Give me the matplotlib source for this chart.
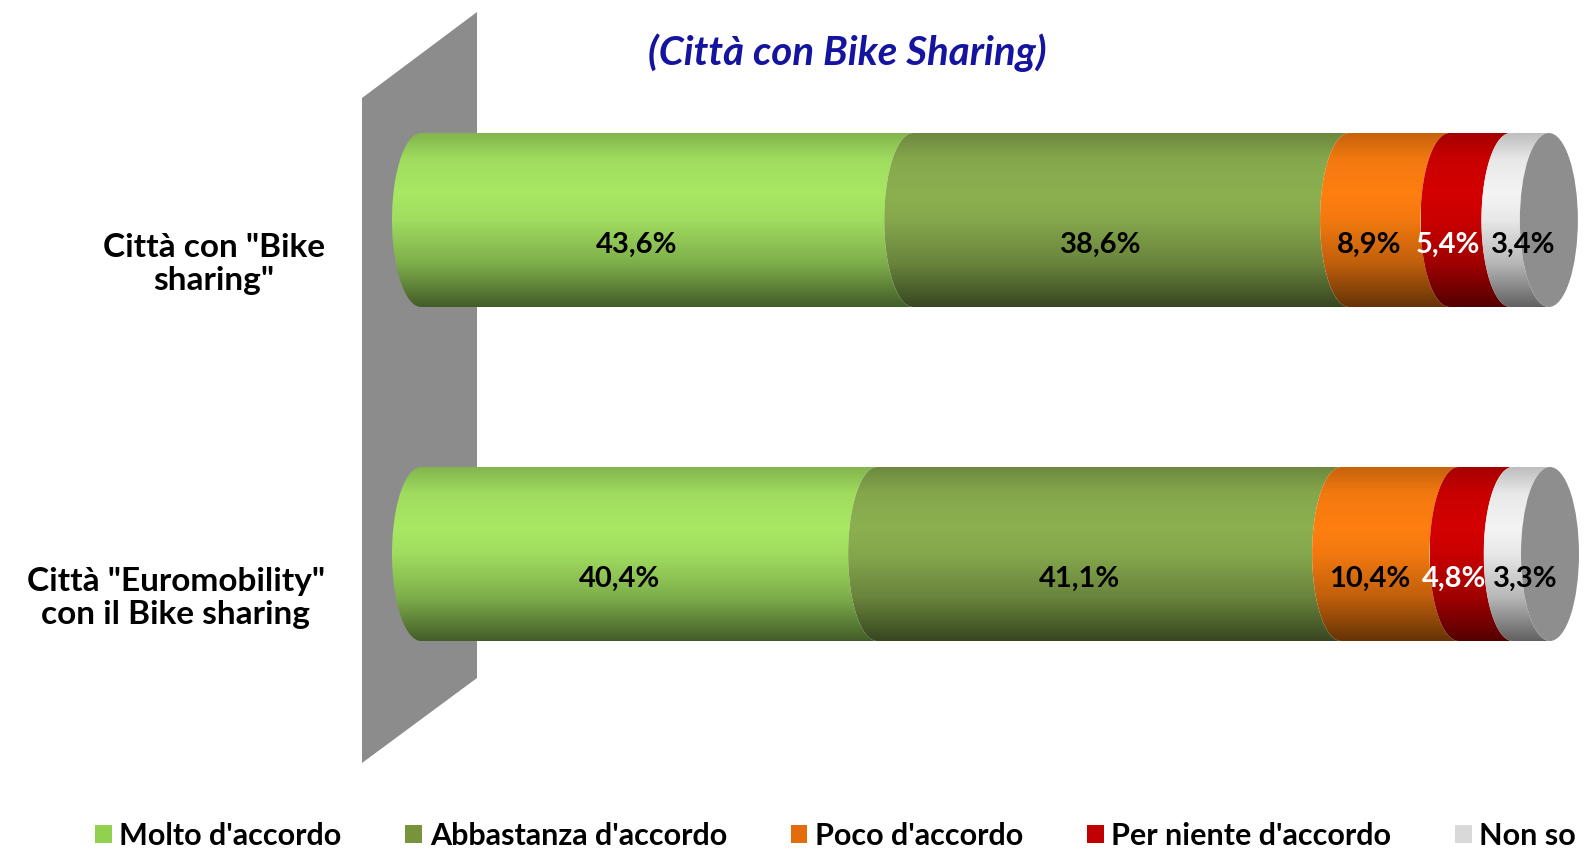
import numpy as np
import matplotlib
matplotlib.use('Agg')
import matplotlib.pyplot as plt
from matplotlib.patches import PathPatch, Ellipse, Polygon, Patch
from matplotlib.path import Path
from matplotlib.colors import to_rgb

plt.rcParams['font.family'] = ['Lato', 'DejaVu Sans']

categories = ['Città con "Bike\nsharing"', 'Città "Euromobility"\ncon il Bike sharing']
series = ["Molto d'accordo", "Abbastanza d'accordo", "Poco d'accordo", "Per niente d'accordo", "Non so"]
molto = [43.6, 40.4]
abbastanza = [38.6, 41.1]
poco = [8.9, 10.4]
per_niente = [5.4, 4.8]
non_so = [3.4, 3.3]
values = [molto, abbastanza, poco, per_niente, non_so]

bar_colors = ['#A8E864', '#8CB050', '#FF7F10', '#D40000', '#F4F4F4']
legend_colors = ['#92D050', '#77933C', '#E46C0A', '#C00000', '#D9D9D9']
label_colors = ['black', 'black', 'black', 'white', 'black']
label_dx = [-30, -30, -30, -32, -6]

W, H = 1590, 852
fig = plt.figure(figsize=(W / 100, H / 100), dpi=100)
ax = fig.add_axes([0, 0, 1, 1])
ax.axis('off')

# pixel mapping: 0% -> x=421, 100% -> x=1550 ; bar centres at y=220 and y=554
ppx = (1550 - 421) / 100
ax.set_xlim(-421 / ppx, (W - 421) / ppx)
ppy = 554 - 220
ax.set_ylim(-(H - 554) / ppy, 1 + 220 / ppy)

# back wall
wall = [(362, 98), (477, 12), (477, 678), (362, 763)]
ax.add_patch(Polygon([(x / W, 1 - y / H) for x, y in wall], closed=True,
                     transform=fig.transFigure, facecolor='#8C8C8C', edgecolor='none', zorder=1))

rx = 29 / ppx
ry = 87 / ppy
theta_l = np.linspace(np.pi / 2, 3 * np.pi / 2, 60)

# vertical shading profile (bottom -> top)
t = np.linspace(0, 1, 200)
shade = np.interp(t, [0, 0.25, 0.5, 0.65, 0.85, 1.0], [0.4, 0.75, 0.95, 1.0, 0.95, 0.78])

ypos = [1, 0]
for i, yc in enumerate(ypos):
    left = 0
    for s in range(len(series)):
        v = values[s][i]
        a, b = left, left + v
        xs = np.concatenate([a + rx * np.cos(theta_l), b + rx * np.cos(theta_l[::-1])])
        ys = np.concatenate([yc + ry * np.sin(theta_l), yc + ry * np.sin(theta_l[::-1])])
        patch = PathPatch(Path(np.column_stack([xs, ys])), facecolor='none', edgecolor='none', zorder=2)
        ax.add_patch(patch)
        rgb = np.array(to_rgb(bar_colors[s]))
        img = np.clip(shade[:, None, None] * rgb[None, None, :], 0, 1)
        im = ax.imshow(img, extent=(a - rx, b, yc - ry, yc + ry), origin='lower',
                       aspect='auto', zorder=2, interpolation='bilinear')
        im.set_clip_path(patch)
        lab = f"{v:.1f}%".replace('.', ',')
        ax.annotate(lab, xy=((a + b) / 2, yc), xytext=(label_dx[s], -25),
                    textcoords='offset pixels', ha='center', va='center',
                    fontsize=21, fontweight='bold', color=label_colors[s], zorder=5)
        left = b
    ax.add_patch(Ellipse((left, yc), 2 * rx, 2 * ry, facecolor='#8E8E8E', edgecolor='none', zorder=3))
    ax.annotate(categories[i], xy=(0, yc), xytext=(325 - 421, -44), textcoords='offset pixels',
                ha='right', va='center', multialignment='center',
                fontsize=24, fontweight='bold', color='black')

fig.text(847 / W, 1 - 53 / H, '(Città con Bike Sharing)', ha='center', va='center',
         fontsize=29, fontweight='bold', fontstyle='italic', color='#1414A0')

handles = [Patch(facecolor=c, edgecolor='none') for c in legend_colors]
fig.legend(handles, series, ncol=5, loc='center left', bbox_to_anchor=(95 / W, 1 - 836 / H),
           frameon=False, prop={'weight': 'bold', 'size': 22},
           handlelength=0.55, handleheight=0.55, handletextpad=0.25, columnspacing=2.08,
           borderpad=0, borderaxespad=0)

fig.savefig('out.png', dpi=100)
